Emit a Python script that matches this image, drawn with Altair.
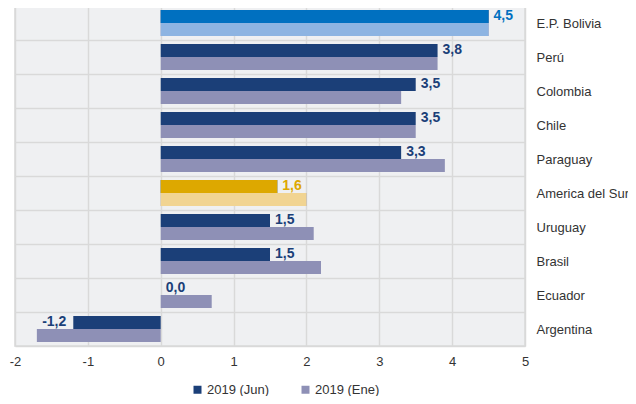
import altair as alt
import pandas as pd

categories = ["E.P. Bolivia", "Perú", "Colombia", "Chile", "Paraguay",
              "America del Sur", "Uruguay", "Brasil", "Ecuador", "Argentina"]
jun = [4.5, 3.8, 3.5, 3.5, 3.3, 1.6, 1.5, 1.5, 0.0, -1.2]
ene = [4.5, 3.8, 3.3, 3.5, 3.9, 2.0, 2.1, 2.2, 0.7, -1.7]
series = ["2019 (Jun)", "2019 (Ene)"]

NAVY = "#1B3F78"
LILAC = "#8E90B6"
special = {
    "E.P. Bolivia": ("#0070C0", "#8DB4E2"),
    "America del Sur": ("#DDA800", "#F1D492"),
}

rows = []
for c, j, e in zip(categories, jun, ene):
    cj, ce = special.get(c, (NAVY, LILAC))
    rows.append({"cat": c, "series": series[0], "v": j, "col": cj, "hl": c in special})
    rows.append({"cat": c, "series": series[1], "v": e, "col": ce, "hl": c in special})
df = pd.DataFrame(rows)

FONT = "Liberation Sans"

y_enc = alt.Y("cat:N", sort=categories,
              scale=alt.Scale(paddingInner=0, paddingOuter=0),
              axis=alt.Axis(orient="right", title=None, ticks=False, domain=False,
                            labelAlign="left", labelPadding=11, labelFontSize=13,
                            labelColor="#333333", labelFont=FONT,
                            grid=True, tickBand="extent", gridColor="#D9D9D9",
                            gridWidth=1.5))
yoff = alt.YOffset("series:N", sort=series,
                   scale=alt.Scale(paddingInner=0, paddingOuter=0.3077))
x_enc = alt.X("v:Q", scale=alt.Scale(domain=[-2, 5], nice=False),
              axis=alt.Axis(title=None, values=list(range(-2, 6)), ticks=False,
                            domain=False, grid=True, gridColor="#D9D9D9",
                            gridWidth=1.5, labelFontSize=13, labelColor="#333333",
                            labelFont=FONT, labelPadding=9, labelFlush=False,
                            labelExpr="'' + datum.value"))

base = alt.Chart(df)

bars = base.mark_bar(size=13).encode(
    y=y_enc, yOffset=yoff, x=x_enc,
    color=alt.Color("series:N", sort=series,
                    scale=alt.Scale(domain=series, range=[NAVY, LILAC]),
                    legend=alt.Legend(title=None, orient="none", direction="horizontal",
                                      legendX=176, legendY=377,
                                      symbolType="square", symbolSize=64,
                                      symbolStrokeWidth=0, labelFontSize=13,
                                      labelFont=FONT, labelColor="#333333",
                                      columnPadding=29, labelOffset=3)),
)

hl = base.transform_filter("datum.hl").mark_bar(size=13).encode(
    y=alt.Y("cat:N", sort=categories), yOffset=yoff, x="v:Q",
    color=alt.Color("col:N", scale=None),
)

lab = base.transform_filter("datum.series == '2019 (Jun)'").transform_calculate(
    txt="(datum.v < 0 ? '-' : '') + replace(format(abs(datum.v), '.1f'), '.', ',')"
)

pos_txt = lab.transform_filter("datum.v >= 0").mark_text(
    align="left", baseline="middle", dx=5, dy=-1, fontWeight="bold", fontSize=14, font=FONT
).encode(y=alt.Y("cat:N", sort=categories), yOffset=yoff, x="v:Q", text="txt:N",
         color=alt.Color("col:N", scale=None))

neg_txt = lab.transform_filter("datum.v < 0").mark_text(
    align="right", baseline="middle", dx=-7, dy=-1, fontWeight="bold", fontSize=14, font=FONT
).encode(y=alt.Y("cat:N", sort=categories), yOffset=yoff, x="v:Q", text="txt:N",
         color=alt.Color("col:N", scale=None))

chart = alt.layer(bars, hl, pos_txt, neg_txt).properties(
    width=510, height=340,
    autosize=alt.AutoSizeParams(type="none"),
    padding={"left": 7, "top": -2, "right": 103, "bottom": 50},
    background="white",
).configure_view(fill="#EFF0F2", stroke="#D9D9D9", strokeWidth=1.5)

chart.save("out.html", embed_options={"renderer": "svg", "actions": False})
